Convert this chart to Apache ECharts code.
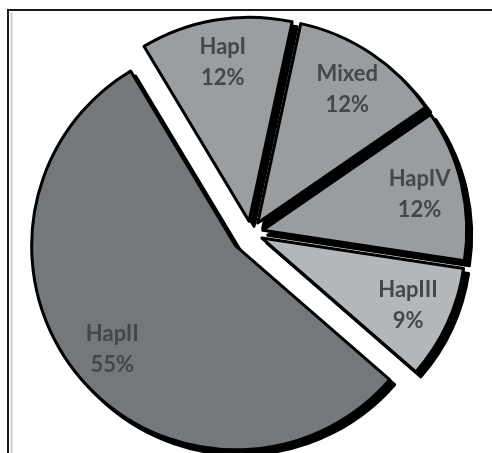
<!DOCTYPE html>
<html>
<head>
<meta charset="utf-8">
<script src="https://cdn.jsdelivr.net/npm/echarts@6/dist/echarts.min.js"></script>
<style>
html,body{margin:0;padding:0;background:#fff;}
#chart{width:492px;height:453px;}
</style>
</head>
<body>
<div id="chart"></div>
<script>
// Data
const categories = ['HapI', 'Mixed', 'HapIV', 'HapIII', 'HapII'];
const values = [12, 12, 12, 9, 55];
const sliceColors = ['#9b9ea0', '#9a9d9f', '#9a9d9f', '#b4b7b9', '#75787b'];
const bigSlice = 'HapII';

const CENTER = [251, 233];
const SHADOW = [5, 5];
const R = 204;

function buildData(showFn, mode) {
  return categories.map((name, i) => {
    const vis = showFn(name);
    const item = { name: name, value: values[i], selected: true };
    if (mode === 'label') {
      item.itemStyle = { color: 'transparent', borderWidth: 0 };
      item.label = { show: vis };
    } else if (mode === 'shadow') {
      item.itemStyle = vis ? { color: '#000', borderColor: '#000' } : { color: 'transparent', borderWidth: 0 };
      item.label = { show: false };
    } else {
      item.itemStyle = vis ? { color: sliceColors[i] } : { color: 'transparent', borderWidth: 0 };
      item.label = { show: false };
    }
    return item;
  });
}

function pieSeries(showFn, offset, mode) {
  const center = mode === 'shadow' ? [CENTER[0] + SHADOW[0], CENTER[1] + SHADOW[1]] : CENTER;
  return {
    type: 'pie',
    center: center,
    radius: mode === 'label' ? [112, R] : [0, R],
    startAngle: 121,
    clockwise: true,
    selectedMode: 'multiple',
    selectedOffset: offset,
    silent: true,
    animation: false,
    avoidLabelOverlap: false,
    percentPrecision: 0,
    emphasis: { disabled: true },
    itemStyle: mode === 'label' ? { color: 'transparent', borderWidth: 0 } :
      { borderColor: '#000', borderWidth: 3, borderJoin: 'round' },
    label: {
      show: mode === 'label',
      position: 'inside',
      formatter: '{b}\n{d}%',
      color: '#43474b',
      fontFamily: 'Lato',
      fontWeight: 'bold',
      fontSize: 22,
      lineHeight: 31,
      align: 'center'
    },
    labelLine: { show: false },
    data: buildData(showFn, mode)
  };
}

const isBig = n => n === bigSlice;
const isSmall = n => n !== bigSlice;

const chart = echarts.init(document.getElementById('chart'), null, { renderer: 'canvas' });
chart.setOption({
  backgroundColor: '#fff',
  animation: false,
  graphic: [
    { type: 'rect', shape: { x: 8, y: 10, width: 600, height: 600 }, style: { fill: 'none', stroke: '#1a1a1a', lineWidth: 2 }, z: -10 },
    { type: 'line', shape: { x1: 11.5, y1: 12, x2: 11.5, y2: 460 }, style: { stroke: '#cfcfcf', lineWidth: 2 }, z: -10 }
  ],
  series: [
    pieSeries(isBig, 20, 'shadow'),
    pieSeries(isBig, 20, 'fill'),
    pieSeries(isSmall, 12, 'shadow'),
    pieSeries(isSmall, 12, 'fill'),
    pieSeries(isBig, 20, 'label'),
    pieSeries(isSmall, 12, 'label')
  ]
});
</script>
</body>
</html>
